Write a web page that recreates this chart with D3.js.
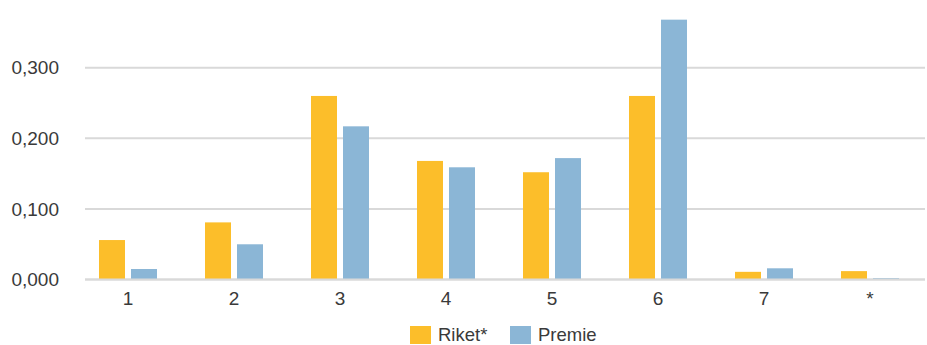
<!DOCTYPE html>
<html>
<head>
<meta charset="utf-8">
<script src="https://cdn.jsdelivr.net/npm/d3@7/dist/d3.min.js"></script>
<style>
  html, body { margin: 0; padding: 0; background: #fff; }
  svg text { font-family: "Liberation Sans", Arial, sans-serif; fill: #3a3a3a; }
</style>
</head>
<body>
<svg id="chart" width="927" height="345"></svg>
<script>
// Categories and series
const categories = ["1", "2", "3", "4", "5", "6", "7", "*"];
const riket  = [0.056, 0.081, 0.260, 0.168, 0.152, 0.260, 0.011, 0.012];
const premie = [0.015, 0.050, 0.217, 0.159, 0.172, 0.368, 0.016, 0.002];
const seriesNames = ["Riket*", "Premie"];
const seriesColors = ["#FCBE2A", "#8BB6D6"];
const yTicks = [0, 0.1, 0.2, 0.3];

const svg = d3.select("#chart");

const y = d3.scaleLinear().domain([0, 0.3]).range([279.6, 67.7]);
const x = d3.scaleBand().domain(categories).range([75, 923]).paddingInner(0).paddingOuter(0);
const inner = d3.scaleBand().domain(seriesNames).range([x.bandwidth() / 2 - 29, x.bandwidth() / 2 + 29]).paddingInner(0.1875);

const fmt = v => d3.format(".3f")(v).replace(".", ",");

// Horizontal gridlines
svg.append("g").selectAll("line").data(yTicks).join("line")
  .attr("x1", 85).attr("x2", 925)
  .attr("y1", d => y(d)).attr("y2", d => y(d))
  .attr("stroke", "#d9d9d9").attr("stroke-width", 2);

// Y-axis labels
svg.append("g").selectAll("text").data(yTicks).join("text")
  .attr("x", 59).attr("y", d => y(d)).attr("dy", "0.35em")
  .attr("text-anchor", "end").attr("font-size", 19)
  .text(fmt);

// Bars
const rows = categories.map((c, i) => ({ cat: c, vals: [riket[i], premie[i]] }));
const groups = svg.append("g").selectAll("g").data(rows).join("g")
  .attr("transform", d => `translate(${x(d.cat)},0)`);
groups.selectAll("rect").data(d => d.vals.map((v, k) => ({ v, k }))).join("rect")
  .attr("x", d => inner(seriesNames[d.k]))
  .attr("width", inner.bandwidth())
  .attr("y", d => y(d.v))
  .attr("height", d => y(0) - y(d.v))
  .attr("fill", d => seriesColors[d.k]);

// Baseline on top of bars
svg.append("line").attr("x1", 85).attr("x2", 925)
  .attr("y1", y(0)).attr("y2", y(0))
  .attr("stroke", "#d9d9d9").attr("stroke-width", 2);

// Category labels
svg.append("g").selectAll("text").data(categories).join("text")
  .attr("x", d => x(d) + x.bandwidth() / 2).attr("y", 305)
  .attr("text-anchor", "middle").attr("font-size", 19)
  .text(d => d);

// Legend
const legendItems = [{ name: seriesNames[0], color: seriesColors[0], x: 410 },
                     { name: seriesNames[1], color: seriesColors[1], x: 510 }];
const lg = svg.append("g").selectAll("g").data(legendItems).join("g")
  .attr("transform", d => `translate(${d.x},326)`);
lg.append("rect").attr("width", 21).attr("height", 18).attr("fill", d => d.color);
lg.append("text").attr("x", 28).attr("y", 15).attr("font-size", 18.5).text(d => d.name);
</script>
</body>
</html>
